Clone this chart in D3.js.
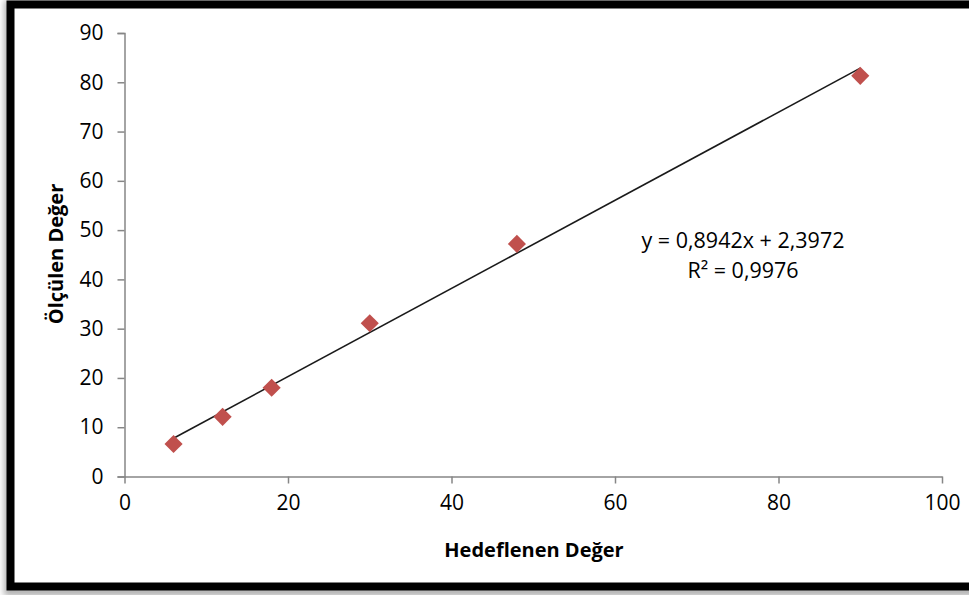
<!DOCTYPE html>
<html>
<head>
<meta charset="utf-8">
<script src="https://cdn.jsdelivr.net/npm/d3@7"></script>
<style>
  html, body { margin: 0; padding: 0; background: #fff; }
  svg { display: block; }
</style>
</head>
<body>
<svg id="chart"></svg>
<script>
// ölçüm verisi
const targetValues = [6, 12, 18, 30, 48, 90]
const measuredValues = [6.6, 12.1, 18.0, 31.1, 47.2, 81.3]
const xTicks = [0, 20, 40, 60, 80, 100]
const yTicks = [0, 10, 20, 30, 40, 50, 60, 70, 80, 90]
const slope = 0.8942
const intercept = 2.3972
const equationLines = ['y = 0,8942x + 2,3972', 'R² = 0,9976']

const width = 969
const height = 595
const fontFamily = '"Open Sans", "Noto Sans", sans-serif'
const axisColor = '#868686'
const markerColor = '#C0504D'

const svg = d3.select('#chart')
  .attr('width', width)
  .attr('height', height)

// gölge + çerçeve
const defs = svg.append('defs')
defs.append('filter').attr('id', 'shadow')
  .attr('x', '-5%').attr('y', '-5%').attr('width', '110%').attr('height', '110%')
  .append('feGaussianBlur').attr('stdDeviation', 3)

svg.append('rect')
  .attr('x', 9).attr('y', 5).attr('width', 1000).attr('height', 586)
  .attr('fill', 'none')
  .attr('stroke', '#b0b0b0')
  .attr('stroke-width', 10)
  .attr('filter', 'url(#shadow)')

svg.append('rect')
  .attr('x', 10.5).attr('y', 4.5).attr('width', 1000).attr('height', 582)
  .attr('fill', '#fff')
  .attr('stroke', '#000')
  .attr('stroke-width', 8)

const x = d3.scaleLinear().domain([0, 100]).range([124.5, 942])
const y = d3.scaleLinear().domain([0, 90]).range([476.5, 33])

// y ekseni
const yAxis = svg.append('g')
  .attr('transform', `translate(${x(0)},0)`)
  .call(d3.axisLeft(y).tickValues(yTicks).tickSize(7).tickPadding(14))
yAxis.select('.domain').attr('stroke', axisColor).attr('stroke-width', 1.5)
yAxis.selectAll('.tick line').attr('stroke', axisColor).attr('stroke-width', 1.5)
yAxis.selectAll('.tick text')
  .attr('fill', '#000')
  .style('font-family', fontFamily)
  .style('font-size', '21px')

// x ekseni
const xAxis = svg.append('g')
  .attr('transform', `translate(0,${y(0)})`)
  .call(d3.axisBottom(x).tickValues(xTicks).tickSize(7).tickSizeOuter(0).tickPadding(12))
xAxis.select('.domain').attr('stroke', axisColor).attr('stroke-width', 1.5)
xAxis.selectAll('.tick line').attr('stroke', axisColor).attr('stroke-width', 1.5)
xAxis.selectAll('.tick text')
  .attr('fill', '#000')
  .style('font-family', fontFamily)
  .style('font-size', '21px')

// eğilim çizgisi
const xMin = d3.min(targetValues)
const xMax = d3.max(targetValues)
svg.append('line')
  .attr('x1', x(xMin)).attr('y1', y(slope * xMin + intercept))
  .attr('x2', x(xMax)).attr('y2', y(slope * xMax + intercept))
  .attr('stroke', '#1a1a1a')
  .attr('stroke-width', 1.6)

// noktalar
const points = targetValues.map((v, i) => ({ x: v, y: measuredValues[i] }))
svg.selectAll('.pt')
  .data(points)
  .enter()
  .append('path')
  .attr('class', 'pt')
  .attr('d', d3.symbol().type(d3.symbolDiamond2).size(210))
  .attr('transform', d => `translate(${x(d.x)},${y(d.y)})`)
  .attr('fill', markerColor)

// denklem
svg.append('text')
  .attr('x', 743).attr('y', 248)
  .attr('text-anchor', 'middle')
  .style('font-family', fontFamily)
  .style('font-size', '21.5px')
  .text(equationLines[0])
svg.append('text')
  .attr('x', 743).attr('y', 278)
  .attr('text-anchor', 'middle')
  .style('font-family', fontFamily)
  .style('font-size', '21.5px')
  .text(equationLines[1])

// eksen başlıkları
svg.append('text')
  .attr('x', 534).attr('y', 557)
  .attr('text-anchor', 'middle')
  .style('font-family', fontFamily)
  .style('font-size', '20px')
  .style('font-weight', 'bold')
  .text('Hedeflenen Değer')

svg.append('text')
  .attr('transform', 'translate(63,254) rotate(-90)')
  .attr('text-anchor', 'middle')
  .style('font-family', fontFamily)
  .style('font-size', '20px')
  .style('font-weight', 'bold')
  .text('Ölçülen Değer')
</script>
</body>
</html>
